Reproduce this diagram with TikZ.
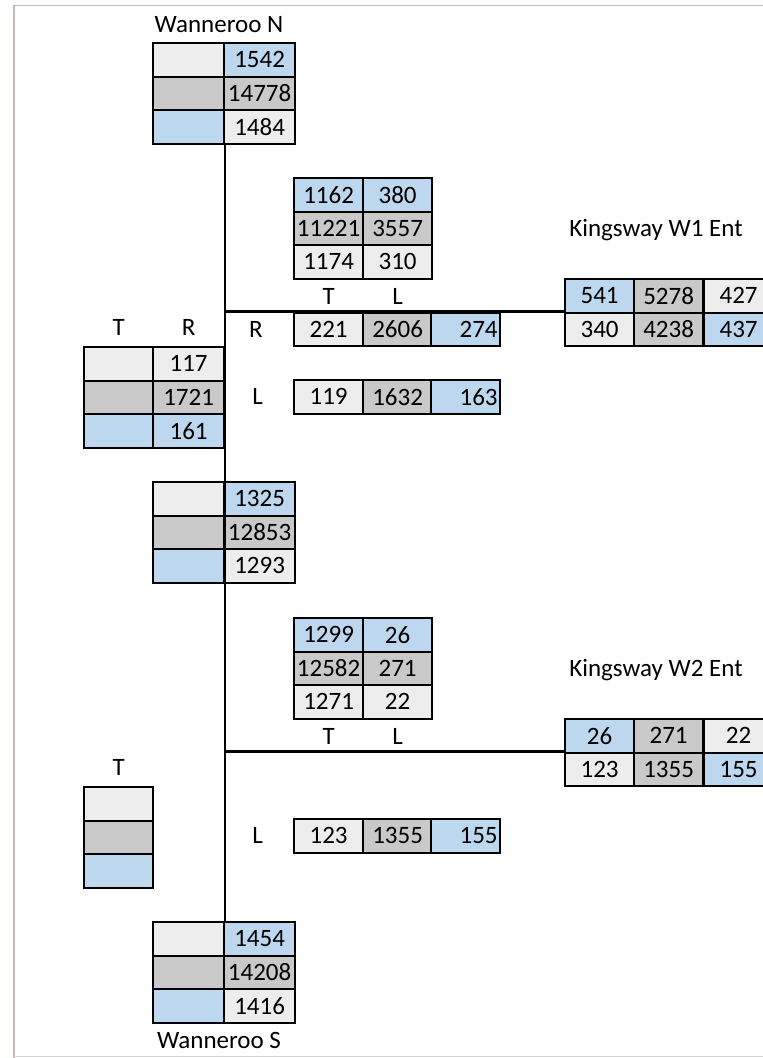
\documentclass[tikz,border=0pt]{standalone}
\usepackage{fontspec}
\setmainfont{Carlito}
\usetikzlibrary{positioning}
\definecolor{lgcol}{RGB}{237,237,237}
\definecolor{dgcol}{RGB}{201,201,201}
\definecolor{blcol}{RGB}{189,215,238}
\definecolor{framecol}{RGB}{196,187,180}
\definecolor{botcol}{RGB}{212,212,212}

\begin{document}
\begin{tikzpicture}[
  x=1pt, y=-1pt,
  font=\fontsize{25}{29}\selectfont,
  cell/.style={draw=black, line width=2.2pt, inner sep=0pt, anchor=north west,
               minimum width=69pt, minimum height=33.5pt},
  wide/.style={minimum width=71pt},
  lt/.style={cell, fill=lgcol},
  dk/.style={cell, fill=dgcol},
  bl/.style={cell, fill=blcol},
  rt/.style={text width=64pt, align=right},
  lbl/.style={inner sep=0pt},
  road/.style={line width=2.2pt, draw=black},
]
\useasboundingbox (0,0) rectangle (763,1058);

% ---------- frame ----------
\draw[framecol, line width=1.4pt] (763,5.5) -- (14,5.5) -- (14,1058);
\draw[botcol, line width=1.4pt] (14,1056.5) -- (763,1056.5);

% ---------- Wanneroo N ----------
\node[lbl] (wntitle) at (219,25) {Wanneroo N};
\node[lt, wide] (wn11) at (152,42) {};
\node[bl, wide] (wn12) at (223,42) {1542};
\node[dk, wide] (wn21) at (152,75.5) {};
\node[dk, wide] (wn22) at (223,75.5) {14778};
\node[bl, wide] (wn31) at (152,109) {};
\node[lt, wide] (wn32) at (223,109) {1484};

% ---------- Kingsway W1, turning flows ----------
\node[bl] (wa11) at (293,177) {1162};
\node[bl] (wa12) at (362,177) {380};
\node[dk] (wa21) at (293,210.5) {11221};
\node[dk] (wa22) at (362,210.5) {3557};
\node[lt] (wa31) at (293,244) {1174};
\node[lt] (wa32) at (362,244) {310};
\node[lbl, below=9pt of wa31] (waT) {T};
\node[lbl, below=9pt of wa32] (waL) {L};

\node[lt] (rr1) at (293,311.5) {221};
\node[dk] (rr2) at (362,311.5) {2606};
\node[bl, rt] (rr3) at (430,311.5) {274};
\node[lbl, left=30pt of rr1] (rrlbl) {R};

\node[lt] (lr1) at (293,379) {119};
\node[dk] (lr2) at (362,379) {1632};
\node[bl, rt] (lr3) at (430,379) {163};
\node[lbl, left=30pt of lr1] (lrlbl) {L};

% ---------- Kingsway W1 Ent ----------
\node[lbl] (katitle) at (656,230) {Kingsway W1 Ent};
\node[bl] (ka11) at (564,278) {541};
\node[dk] (ka12) at (633,278) {5278};
\node[lt] (ka13) at (703,278) {427};
\node[lt] (ka21) at (564,311.5) {340};
\node[dk] (ka22) at (633,311.5) {4238};
\node[bl] (ka23) at (703,311.5) {437};

% ---------- left T / R ----------
\node[lt] (tr11) at (83,346) {};
\node[lt, wide] (tr12) at (152,346) {117};
\node[dk] (tr21) at (83,379.5) {};
\node[dk, wide] (tr22) at (152,379.5) {1721};
\node[bl] (tr31) at (83,413) {};
\node[bl, wide] (tr32) at (152,413) {161};
\node[lbl, above=10pt of tr11] (trT) {T};
\node[lbl, above=10pt of tr12] (trR) {R};

% ---------- between the entries ----------
\node[lt, wide] (md11) at (152,481) {};
\node[bl, wide] (md12) at (223,481) {1325};
\node[dk, wide] (md21) at (152,514.5) {};
\node[dk, wide] (md22) at (223,514.5) {12853};
\node[bl, wide] (md31) at (152,548) {};
\node[lt, wide] (md32) at (223,548) {1293};

% ---------- Kingsway W2, turning flows ----------
\node[bl] (wb11) at (293,617) {1299};
\node[bl] (wb12) at (362,617) {26};
\node[dk] (wb21) at (293,650.5) {12582};
\node[dk] (wb22) at (362,650.5) {271};
\node[lt] (wb31) at (293,684) {1271};
\node[lt] (wb32) at (362,684) {22};
\node[lbl, below=9pt of wb31] (wbT) {T};
\node[lbl, below=9pt of wb32] (wbL) {L};

\node[lt] (lb1) at (293,818) {123};
\node[dk] (lb2) at (362,818) {1355};
\node[bl, rt] (lb3) at (430,818) {155};
\node[lbl, left=30pt of lb1] (lblbl) {L};

% ---------- Kingsway W2 Ent ----------
\node[lbl] (kbtitle) at (656,670) {Kingsway W2 Ent};
\node[bl] (kb11) at (564,718) {26};
\node[dk] (kb12) at (633,718) {271};
\node[lt] (kb13) at (703,718) {22};
\node[lt] (kb21) at (564,751.5) {123};
\node[dk] (kb22) at (633,751.5) {1355};
\node[bl] (kb23) at (703,751.5) {155};

% ---------- left T ----------
\node[lt] (tb1) at (83,786) {};
\node[dk] (tb2) at (83,819.5) {};
\node[bl] (tb3) at (83,853) {};
\node[lbl, above=10pt of tb1] (tbT) {T};

% ---------- Wanneroo S ----------
\node[lt, wide] (ws11) at (152,921) {};
\node[bl, wide] (ws12) at (223,921) {1454};
\node[dk, wide] (ws21) at (152,954.5) {};
\node[dk, wide] (ws22) at (223,954.5) {14208};
\node[bl, wide] (ws31) at (152,988) {};
\node[lt, wide] (ws32) at (223,988) {1416};
\node[lbl] (wstitle) at (219,1040) {Wanneroo S};

% ---------- roads ----------
\draw[road] (wn31.south east) -- (ws11.north east);
\draw[road] (ka21.north west -| wn31.south east) -- (ka21.north west);
\draw[road] (kb21.north west -| wn31.south east) -- (kb21.north west);

\end{tikzpicture}
\end{document}
